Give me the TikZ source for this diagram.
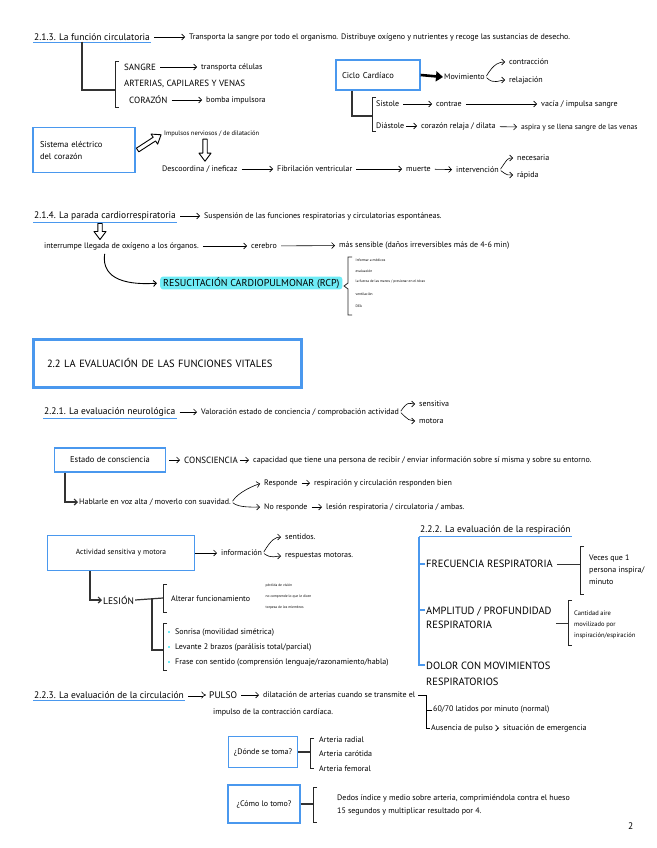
\documentclass[tikz,border=0pt]{standalone}
\usepackage{fontspec}
\setmainfont{PT Sans}
\usetikzlibrary{arrows.meta}
\definecolor{boxblue}{RGB}{74,152,238}
\definecolor{marker}{RGB}{110,236,246}
\tikzset{
  txt/.style={anchor=west, inner sep=1pt, font=\fontsize{8}{9}\selectfont},
  hd/.style={anchor=west, inner sep=1pt, font=\fontsize{9.5}{11}\selectfont},
  capst/.style={anchor=west, inner sep=1pt, font=\fontsize{10.5}{12}\selectfont},
  tiny/.style={anchor=west, inner sep=0.5pt, font=\fontsize{3.6}{4}\selectfont},
  bluebox/.style={draw=boxblue, line width=1.2pt, inner sep=2pt, font=\fontsize{8.5}{10}\selectfont},
  bigbox/.style={draw=boxblue, line width=3pt, inner xsep=14pt, font=\fontsize{10.5}{12}\selectfont},
  arr/.style={-{Straight Barb[length=3pt,width=6pt]}, line width=0.6pt, shorten <=3pt, shorten >=3pt},
  hollow/.style={double, double distance=1.8pt, line width=0.6pt, -{Implies}},
  hollowline/.style={line width=0.9pt, fill=white, line join=round},
  tree/.style={line width=1.4pt, black!80},
  brk/.style={line width=1pt, black!85},
  uline/.style={boxblue, line width=1.2pt},
  bullet/.style={fill=marker, minimum size=2.5pt, inner sep=0pt},
}
\newcommand{\holarrow}[3]{\draw[hollowline, shift={(#1)}, rotate=#2] (0,-2.2) -- (#3-8,-2.2) -- (#3-8,-6) -- (#3,0) -- (#3-8,6) -- (#3-8,2.2) -- (0,2.2) -- cycle;}
\begin{document}
\begin{tikzpicture}[x=1pt, y=-1pt]

        \useasboundingbox[fill=white] (0,0) rectangle (656,848);

        \node[hd] (f213) at (33,37) {2.1.3. La función circulatoria};
        \draw[uline] ([yshift=-1pt]f213.south west) -- ([yshift=-1pt]f213.south east);
        \node[txt] (transp) at (188,37) {Transporta la sangre por todo el organismo. Distribuye oxígeno y nutrientes y recoge las sustancias de desecho.};
        \draw[arr] (f213) -- (transp);

        \coordinate (brA) at (115,90);
        \draw[tree] ([xshift=49pt]f213.south west) |- (brA);
        \draw[brk] (119,62) -- (115,62) -- (115,108) -- (119,108);
        \node[hd, font=\fontsize{9}{10}\selectfont] (sangre) at (123,67) {SANGRE};
        \node[txt] (celulas) at (200,67) {transporta células};
        \draw[arr] (sangre) -- (celulas);
        \node[hd, font=\fontsize{9}{10}\selectfont] (vasos) at (123,84) {ARTERIAS, CAPILARES Y VENAS};
        \node[hd, font=\fontsize{9}{10}\selectfont] (corazon) at (128,100) {CORAZÓN};
        \node[txt] (bomba) at (205,100) {bomba impulsora};
        \draw[arr] (corazon) -- (bomba);

        \node[bluebox, minimum width=84pt, minimum height=30pt, text width=72pt, align=left] (ciclo) at (378,75) {Ciclo Cardíaco};
        \node[txt] (mov) at (443,77) {Movimiento};
        \draw[-{Triangle[length=7pt,width=10pt]}, line width=2.6pt] (ciclo.east) -- (mov.west);
        \node[txt] (contr) at (508,62) {contracción};
        \node[txt] (relaj) at (508,80) {relajación};
        \draw[arr, shorten <=1pt] (mov.east) .. controls +(8,-14) and +(-8,0) .. (contr.west);
        \draw[arr, shorten <=1pt] (mov.east) .. controls +(8,8) and +(-8,0) .. (relaj.west);

        \coordinate (brC) at (372,116);
        \draw[tree] ([xshift=-26pt]ciclo.south) |- (brC);
        \draw[brk] (376,98) -- (372,98) -- (372,132) -- (376,132);
        \node[txt] (sist) at (375,104) {Sístole};
        \node[txt] (contrae) at (435,104) {contrae};
        \node[txt] (vacia) at (540,104) {vacía / impulsa sangre};
        \draw[arr] (sist) -- (contrae);
        \draw[arr] (contrae) -- (vacia);
        \node[txt] (diast) at (375,126) {Diástole};
        \node[txt] (relaja) at (420,126) {corazón relaja / dilata};
        \node[txt, font=\fontsize{7.5}{9}\selectfont] (aspira) at (520,128) {aspira y se llena sangre de las venas};
        \draw[arr, shorten <=1pt] (diast) -- (relaja);
        \draw[arr] (relaja) -- (aspira);

        \node[bluebox, minimum width=102pt, minimum height=45pt, text width=88pt, align=left] (sistel) at (84,150) {Sistema eléctrico\\[2pt]del corazón};
        \node[txt, font=\fontsize{6.5}{8}\selectfont] (impulsos) at (163,134) {Impulsos nerviosos / de dilatación};
        \holarrow{[xshift=2pt]sistel.east}{33}{28}
        \node[txt] (descoord) at (161,169) {Descoordina / ineficaz};
        \holarrow{[xshift=42pt, yshift=-1pt]impulsos.south west}{-90}{22}
        \node[txt] (fibril) at (276,169) {Fibrilación ventricular};
        \node[txt] (muerte) at (405,169) {muerte};
        \node[txt] (interv) at (455,170) {intervención};
        \draw[arr] (descoord) -- (fibril);
        \draw[arr] (fibril) -- (muerte);
        \draw[arr] (muerte) -- (interv);
        \node[txt] (necesaria) at (516,158) {necesaria};
        \node[txt] (rapida) at (516,175) {rápida};
        \draw[arr, shorten <=1pt] (interv.east) .. controls +(8,-12) and +(-8,0) .. (necesaria.west);
        \draw[arr, shorten <=1pt] (interv.east) .. controls +(8,6) and +(-8,0) .. (rapida.west);

        \node[hd] (f214) at (33,216) {2.1.4. La parada cardiorrespiratoria};
        \draw[uline] ([yshift=-1pt]f214.south west) -- ([yshift=-1pt]f214.south east);
        \node[txt] (susp) at (203,216) {Suspensión de las funciones respiratorias y circulatorias espontáneas.};
        \draw[arr] (f214) -- (susp);
        \node[txt] (interr) at (43,246) {interrumpe llegada de oxígeno a los órganos.};
        \holarrow{[xshift=67pt, yshift=-2pt]f214.south west}{-90}{16}
        \node[txt] (cerebro) at (250,246) {cerebro};
        \node[txt] (sensible) at (338,245) {más sensible (daños irreversibles más de 4-6 min)};
        \draw[arr] (interr) -- (cerebro);
        \draw[arr] (cerebro) -- (sensible);
        \node[capst, font=\fontsize{10}{12}\selectfont, fill=marker, rounded corners=3pt, inner xsep=3pt] (rcp) at (160,283) {RESUCITACIÓN CARDIOPULMONAR (RCP)};
        \draw[arr, line width=0.9pt] ([xshift=62pt]interr.south west) .. controls +(-4,30) and +(-30,2) .. (rcp.west);
        \draw[brk, line width=0.8pt] (352,257) -- (348,257) -- (348,283) -- (344,286) -- (348,289) -- (348,315) -- (352,315);
        \node[tiny] (rcpa) at (355,260) {Informar a médicos};
        \node[tiny] (rcpb) at (355,271) {evaluación};
        \node[tiny] (rcpc) at (355,282) {la fuerza de las manos / presionar en el tórax};
        \node[tiny] (rcpd) at (355,294) {ventilación};
        \node[tiny] (rcpe) at (355,306) {DEA};

        \node[bigbox, minimum width=268pt, minimum height=48pt, text width=240pt, align=left] (box22) at (167,363) {2.2 LA EVALUACIÓN DE LAS FUNCIONES VITALES};

        \node[hd] (f221) at (43,412) {2.2.1. La evaluación neurológica};
        \draw[uline] ([yshift=-1pt]f221.south west) -- ([yshift=-1pt]f221.south east);
        \node[txt] (valor) at (200,412) {Valoración estado de conciencia / comprobación actividad};
        \draw[arr] (f221) -- (valor);
        \node[txt] (sensit) at (418,404) {sensitiva};
        \node[txt] (motora) at (418,421) {motora};
        \draw[arr, shorten <=1pt] (valor.east) .. controls +(8,-12) and +(-8,0) .. (sensit.west);
        \draw[arr, shorten <=1pt] (valor.east) .. controls +(8,8) and +(-8,0) .. (motora.west);

        \node[bluebox, minimum width=111pt, minimum height=24pt] (estado) at (110,460) {Estado de consciencia};
        \node[txt, font=\fontsize{9}{10}\selectfont] (consc) at (183,460) {CONSCIENCIA};
        \node[txt] (capac) at (252,460) {capacidad que tiene una persona de recibir / enviar información sobre sí misma y sobre su entorno.};
        \draw[arr] (estado) -- (consc);
        \draw[arr, shorten <=1pt] (consc) -- (capac);
        \node[txt] (hablar) at (78,502) {Hablarle en voz alta / moverlo con suavidad.};
        \draw[tree, line width=1.2pt, -{Straight Barb[length=3pt,width=6pt]}] ([xshift=-45pt]estado.south) |- (hablar.west);
        \node[txt] (resp) at (263,483) {Responde};
        \node[txt] (respbien) at (313,483) {respiración y circulación responden bien};
        \node[txt] (noresp) at (263,507) {No responde};
        \node[txt] (lesresp) at (325,507) {lesión respiratoria / circulatoria / ambas.};
        \draw[arr, shorten <=1pt] (hablar.east) .. controls +(6,-10) and +(-8,2) .. (resp.west);
        \draw[arr, shorten <=1pt] (hablar.east) .. controls +(6,6) and +(-8,0) .. (noresp.west);
        \draw[arr] (resp) -- (respbien);
        \draw[arr] (noresp) -- (lesresp);

        \node[bluebox, minimum width=147pt, minimum height=35pt, font=\fontsize{7.5}{9}\selectfont] (activ) at (121,553) {Actividad sensitiva y motora};
        \node[txt] (info) at (220,553) {información};
        \draw[arr, shorten <=0pt] (activ) -- (info);
        \node[txt] (sentidos) at (284,537) {sentidos.};
        \node[txt] (respmot) at (284,556) {respuestas motoras.};
        \draw[arr, shorten <=1pt] (info.east) .. controls +(8,-14) and +(-8,0) .. (sentidos.west);
        \draw[arr, shorten <=1pt] (info.east) .. controls +(8,6) and +(-8,0) .. (respmot.west);
        \node[hd] (lesion) at (102,600) {LESIÓN};
        \draw[tree, line width=1.2pt, -{Straight Barb[length=3pt,width=6pt]}] ([xshift=-31pt]activ.south) |- (lesion.west);
        \coordinate (brL) at (163,598);
        \coordinate (brM) at (163,650);
        \draw[tree, line width=1.2pt] (lesion.east) -- (brL);
        \draw[tree, line width=1.2pt] (152,598) |- (brM);
        \draw[brk] (167,584) -- (163,584) -- (163,612) -- (167,612);
        \node[txt] (alterar) at (170,599) {Alterar funcionamiento};
        \node[tiny] (alta) at (265,586) {pérdida de visión};
        \node[tiny] (altb) at (265,597) {no comprende lo que le dicen};
        \node[tiny] (altc) at (265,608) {torpeza de los miembros};
        \draw[brk] (167,623) -- (163,623) -- (163,670) -- (167,670);
        \node[bullet] (bula) at (169,632) {};
        \node[bullet] (bulb) at (169,647) {};
        \node[bullet] (bulc) at (169,662) {};
        \node[txt] (sonrisa) at (174,632) {Sonrisa (movilidad simétrica)};
        \node[txt] (brazos) at (174,647) {Levante 2 brazos (parálisis total/parcial)};
        \node[txt] (frase) at (174,662) {Frase con sentido (comprensión lenguaje/razonamiento/habla)};

        \node[hd] (f222) at (419,530) {2.2.2. La evaluación de la respiración};
        \draw[uline] ([yshift=-1pt]f222.south west) -- ([yshift=-1pt]f222.south east);
        \draw[uline, line width=1.6pt] ([yshift=-1pt]f222.south west) -- (419,666);
        \node[capst] (frec) at (425,564) {FRECUENCIA RESPIRATORIA};
        \node[capst, align=left] (ampl) at (425,618) {AMPLITUD / PROFUNDIDAD\\[2pt]RESPIRATORIA};
        \node[capst, align=left] (dolor) at (425,674) {DOLOR CON MOVIMIENTOS\\[4pt]RESPIRATORIOS};
        \draw[uline] (419,564) -- (frec.west);
        \draw[uline] (419,610) -- ([yshift=8pt]ampl.west);
        \draw[uline] (419,665) -- ([yshift=9pt]dolor.west);
        \coordinate (brF) at (580,564);
        \draw[tree, line width=1pt] ([xshift=3pt]frec.east) -- (brF);
        \draw[brk] (584,546) -- (580,546) -- (580,594) -- (584,594);
        \node[txt, align=left] (veces) at (588,570) {Veces que 1\\[3pt]persona inspira/\\[3pt]minuto};
        \coordinate (brG) at (568,623);
        \draw[tree, line width=1pt] ([xshift=3pt]ampl.east |- brG) -- (brG);
        \draw[brk] (572,600) -- (568,600) -- (568,645) -- (572,645);
        \node[txt, align=left, font=\fontsize{6.5}{8}\selectfont] (cantidad) at (573,625) {Cantidad aire\\[3pt]movilizado por\\[3pt]inspiración/espiración};

        \node[hd] (f223) at (33,695) {2.2.3. La evaluación de la circulación};
        \draw[uline] ([yshift=-1pt]f223.south west) -- ([yshift=-1pt]f223.south east);
        \node[hd] (pulso) at (208,695) {PULSO};
        \draw[hollow, shorten <=3pt, shorten >=2pt] (f223) -- (pulso);
        \node[txt] (dilat) at (262,695) {dilatación de arterias cuando se transmite el};
        \node[txt] (impulso) at (212,712) {impulso de la contracción cardíaca.};
        \draw[arr] (pulso) -- (dilat);
        \node[txt] (latidos) at (432,710) {60/70 latidos por minuto (normal)};
        \node[txt] (ausencia) at (430,728) {Ausencia de pulso};
        \node[txt] (emerg) at (502,728) {situación de emergencia};
        \draw[arr] (ausencia) -- (emerg);
        \draw[line width=0.8pt] ([xshift=2pt]dilat.east) -- ++(8,0) |- (ausencia.west);
        \draw[line width=0.8pt] (latidos.west) -- ++(-6,0);

        \node[bluebox, minimum width=69pt, minimum height=31pt, font=\fontsize{8}{9}\selectfont] (donde) at (263,752) {¿Dónde se toma?};
        \coordinate (brD) at (310,752);
        \draw[tree, line width=1.2pt] (donde.east) -- (brD);
        \draw[brk] (314,738) -- (310,738) -- (310,768) -- (314,768);
        \node[txt] (radial) at (318,740) {Arteria radial};
        \node[txt] (carotida) at (318,754) {Arteria carótida};
        \node[txt] (femoral) at (318,769) {Arteria femoral};

        \node[bluebox, minimum width=72pt, minimum height=38pt, font=\fontsize{8}{9}\selectfont] (como) at (264,804) {¿Cómo lo tomo?};
        \coordinate (brE) at (313,804);
        \draw[tree, line width=1.2pt] (como.east) -- (brE);
        \draw[brk] (317,787) -- (313,787) -- (313,822) -- (317,822);
        \node[txt, align=left] (dedos) at (336,805) {Dedos índice y medio sobre arteria, comprimiéndola contra el hueso\\[4pt]15 segundos y multiplicar resultado por 4.};

        \node[hd] (pag) at (627,826) {2};

\end{tikzpicture}
\end{document}
